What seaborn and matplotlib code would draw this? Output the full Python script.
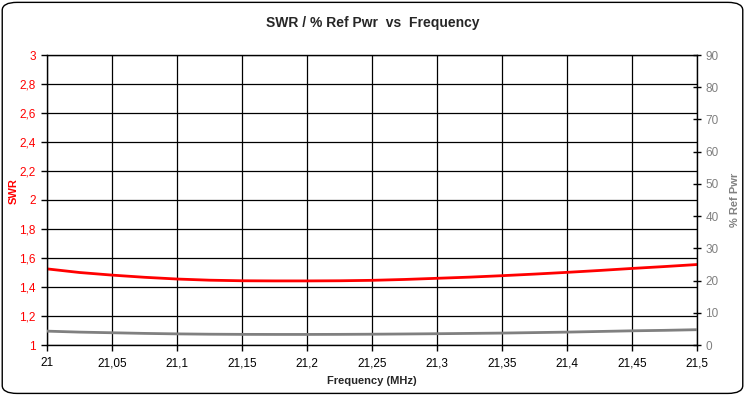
import numpy as np
import pandas as pd
import matplotlib
matplotlib.use("Agg")
import matplotlib.pyplot as plt
import seaborn as sns
from matplotlib.patches import FancyBboxPatch
from matplotlib.ticker import FuncFormatter, MultipleLocator

# ---------------------------------------------------------
# Data
# ---------------------------------------------------------
freq = [21.0, 21.025, 21.05, 21.075, 21.1, 21.125, 21.15, 21.175, 21.2, 21.225,
        21.25, 21.275, 21.3, 21.325, 21.35, 21.375, 21.4, 21.425, 21.45, 21.475, 21.5]
swr = [1.525, 1.50, 1.482, 1.467, 1.455, 1.447, 1.443, 1.442, 1.442, 1.443,
       1.446, 1.452, 1.46, 1.468, 1.478, 1.489, 1.501, 1.514, 1.528, 1.541, 1.555]
ref_pwr = [4.3, 4.0, 3.8, 3.6, 3.45, 3.35, 3.3, 3.28, 3.28, 3.3,
           3.35, 3.42, 3.5, 3.6, 3.7, 3.85, 4.0, 4.2, 4.4, 4.55, 4.75]

df = pd.DataFrame({"freq": freq, "swr": swr, "ref": ref_pwr})

sns.set_style("white")
plt.rcParams["font.family"] = ["Liberation Sans", "DejaVu Sans"]

GRAY = "#808080"
RED = "#ff0000"


def comma(v, pos):
    s = f"{v:.2f}".rstrip("0").rstrip(".")
    return s.replace(".", ",")


fig = plt.figure(figsize=(7.45, 3.95), dpi=100)
ax = fig.add_axes([47 / 745, 1 - 345 / 395, 650 / 745, 290 / 395])

sns.lineplot(data=df, x="freq", y="swr", ax=ax, color=RED, linewidth=2.0)
ax.set_xlim(21, 21.5)
ax.set_ylim(1, 3)
ax.xaxis.set_major_locator(MultipleLocator(0.05))
ax.yaxis.set_major_locator(MultipleLocator(0.2))
ax.xaxis.set_major_formatter(FuncFormatter(comma))
ax.yaxis.set_major_formatter(FuncFormatter(comma))
ax.grid(True, color="black", linewidth=0.9)
ax.set_axisbelow(True)
for sp in ax.spines.values():
    sp.set_color("black")
    sp.set_linewidth(1.0)
ax.tick_params(axis="y", colors="black", labelcolor=RED, labelsize=8.5,
               direction="out", length=4, width=1, left=True, pad=4)
ax.tick_params(axis="x", colors="black", labelsize=8.5,
               direction="out", length=4, width=1, bottom=True, pad=5)
ax.set_xlabel("Frequency (MHz)", fontsize=8, fontweight="bold", labelpad=5)
ax.set_ylabel("SWR", fontsize=8, fontweight="bold", color=RED)
ax.yaxis.set_label_coords(-0.043, 0.53)

ax2 = ax.twinx()
sns.lineplot(data=df, x="freq", y="ref", ax=ax2, color=GRAY, linewidth=2.0)
ax2.set_ylim(0, 90)
ax2.yaxis.set_major_locator(MultipleLocator(10))
ax2.tick_params(axis="y", colors="black", labelcolor=GRAY, labelsize=8.5,
                direction="inout", length=6, width=1, right=True, pad=3)
ax2.set_ylabel("% Ref Pwr", fontsize=8, fontweight="bold", color=GRAY)
ax2.yaxis.set_label_coords(1.05, 0.5)
ax2.grid(False)
for sp in ax2.spines.values():
    sp.set_visible(False)

fig.suptitle("SWR / % Ref Pwr  vs  Frequency", x=0.5, y=0.96,
             fontsize=10, fontweight="bold")

border = FancyBboxPatch((0.003, 0.004), 0.994, 0.99, transform=fig.transFigure,
                        boxstyle="round,pad=0,rounding_size=0.02",
                        fill=False, edgecolor="black", linewidth=1.0)
fig.patches.append(border)

fig.savefig("out.png", dpi=100)
